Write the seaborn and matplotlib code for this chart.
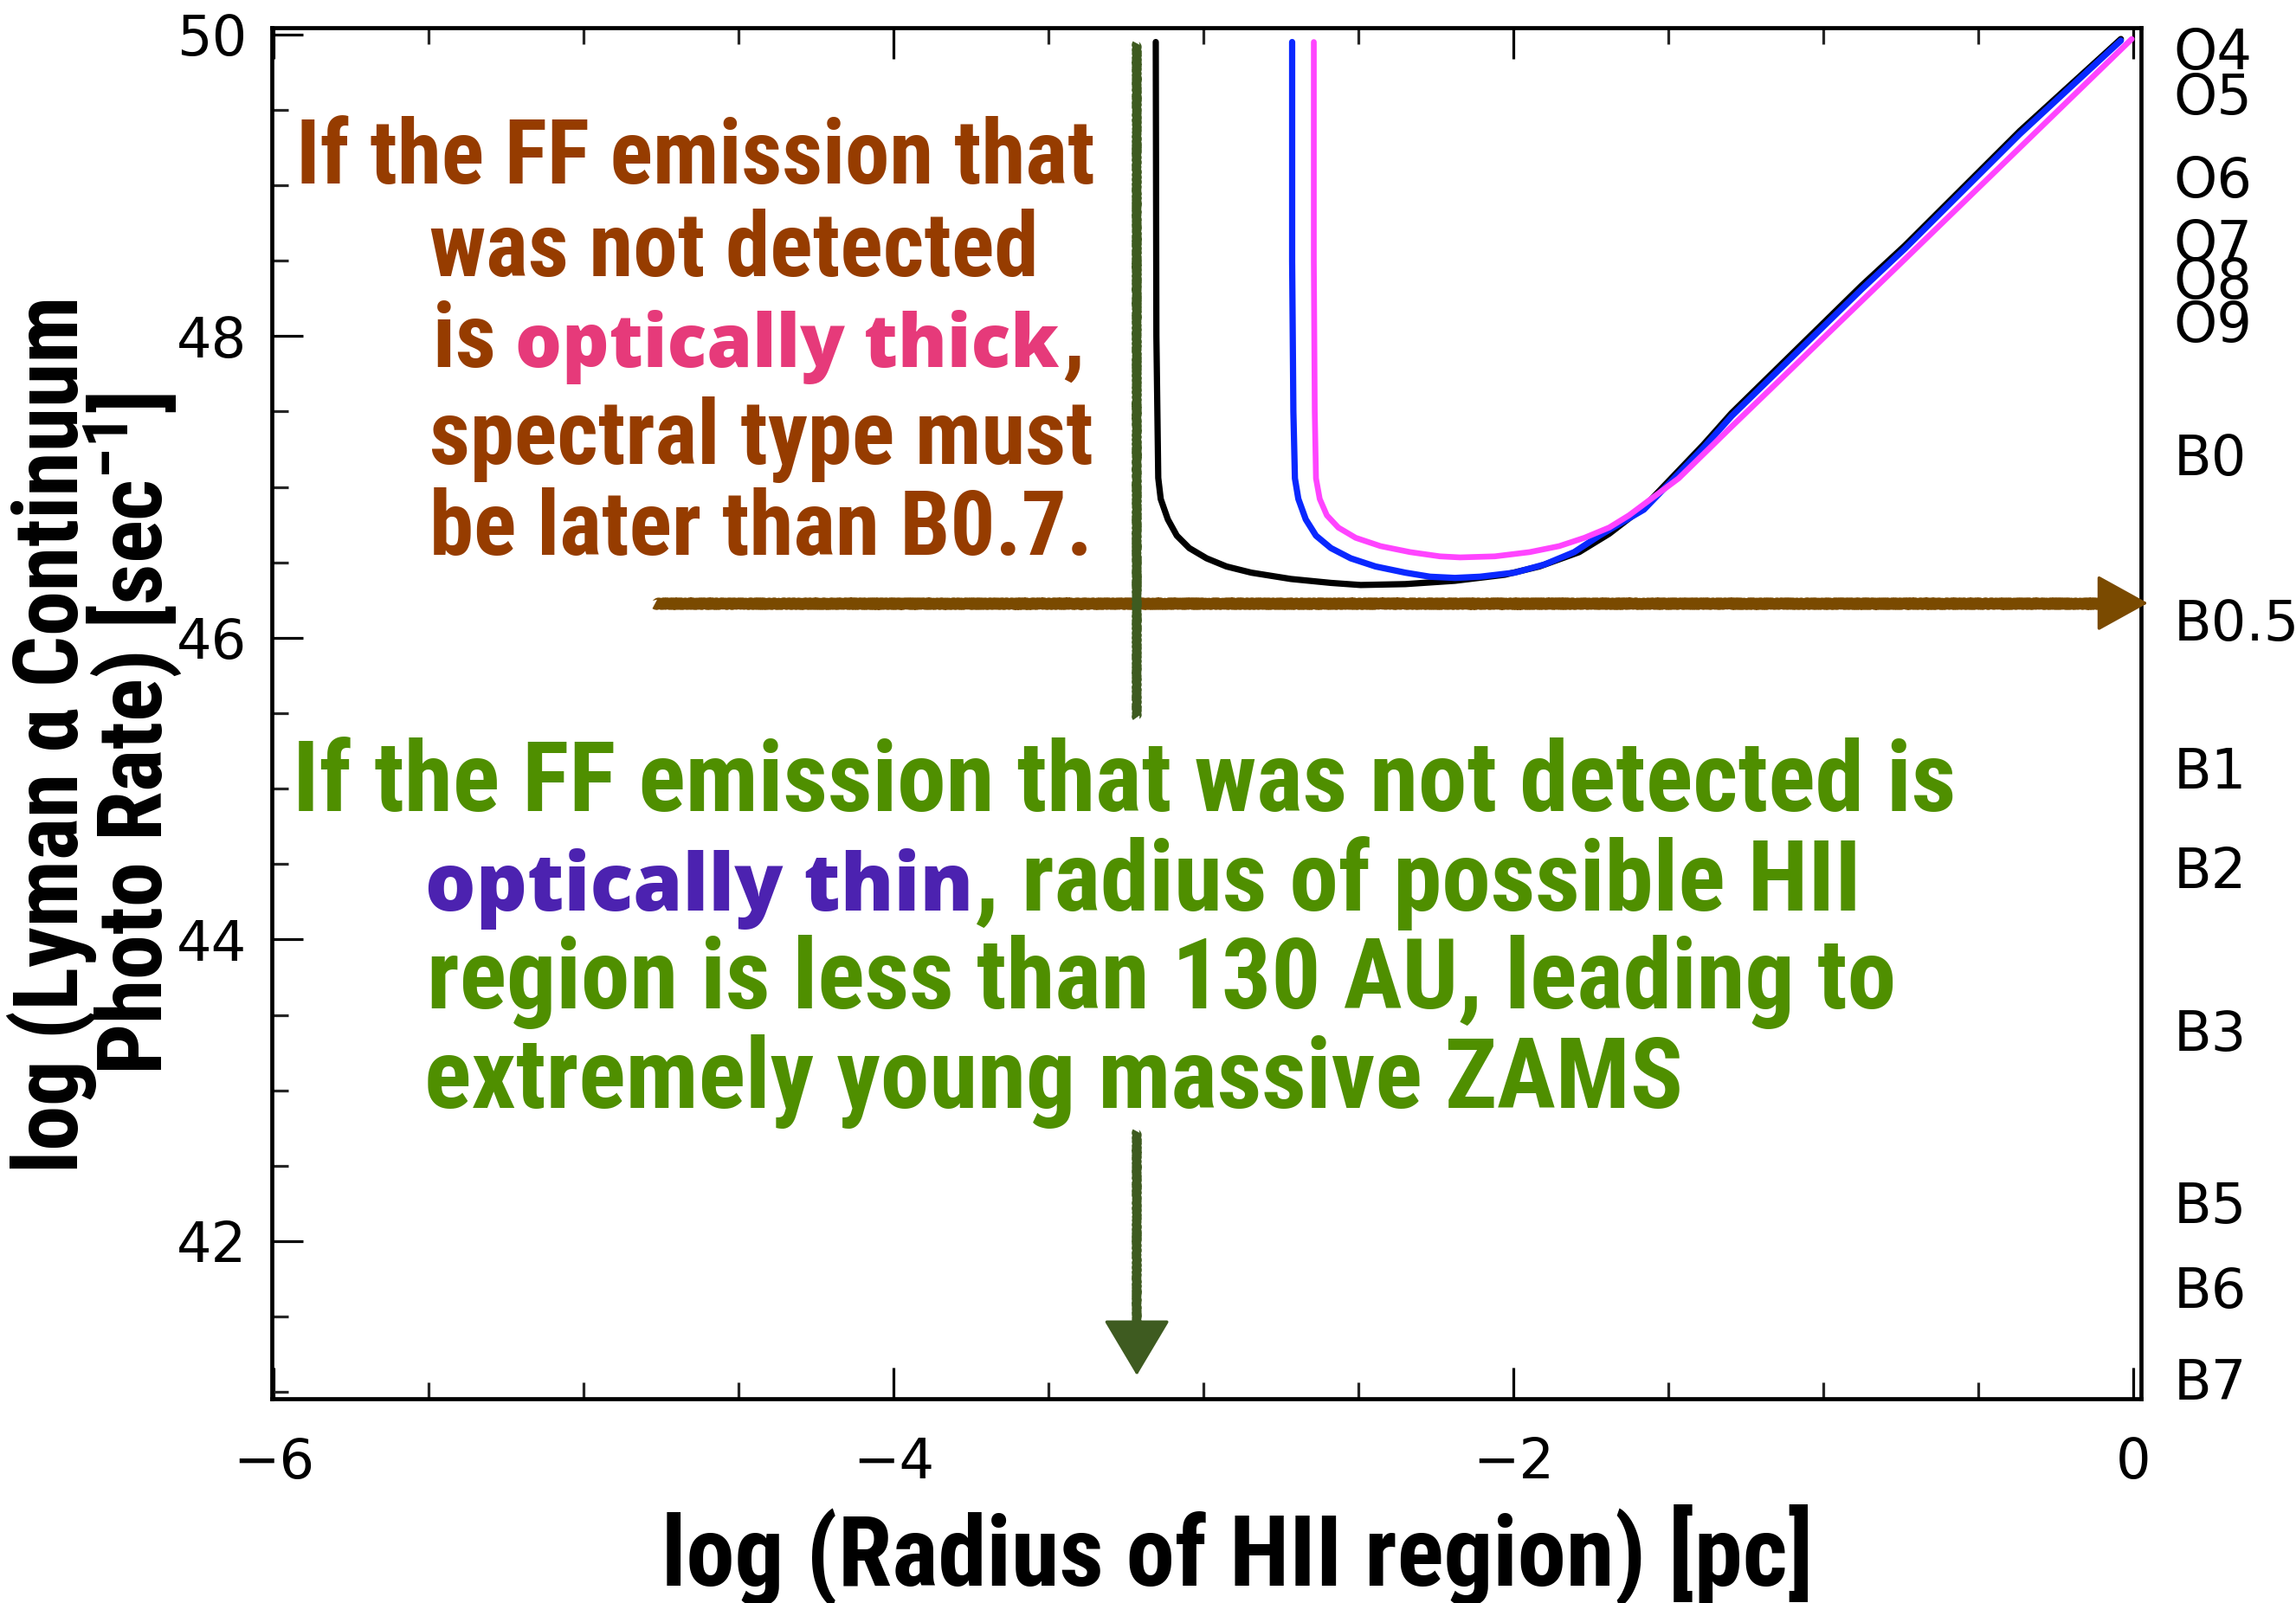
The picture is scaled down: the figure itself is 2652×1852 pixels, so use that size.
import numpy as np
import pandas as pd
import matplotlib
matplotlib.use("Agg")
import matplotlib.pyplot as plt
from matplotlib import font_manager as fm
from matplotlib.patches import FancyArrowPatch
from matplotlib.ticker import NullLocator
import seaborn as sns

# ---------------- data ----------------
black_x = [-3.154, -3.152, -3.146, -3.138, -3.115, -3.086, -3.046, -2.990, -2.926, -2.846,
           -2.718, -2.589, -2.493, -2.349, -2.189, -2.028, -1.916, -1.788, -1.691, -1.579,
           -1.387, -1.296, -0.877, -0.737, -0.366, -0.040]
black_y = [49.95, 48.00, 47.06, 46.92, 46.785, 46.677, 46.595, 46.527, 46.473, 46.432,
           46.39, 46.364, 46.35, 46.356, 46.378, 46.418, 46.473, 46.568, 46.69, 46.867,
           47.28, 47.49, 48.334, 48.60, 49.36, 49.97]

blue_x = [-2.714, -2.714, -2.710, -2.705, -2.694, -2.670, -2.637, -2.589, -2.525, -2.445,
          -2.349, -2.269, -2.189, -2.108, -1.996, -1.900, -1.804, -1.723, -1.579, -1.387,
          -1.296, -0.877, -0.737, -0.366, -0.040]
blue_y = [49.95, 48.50, 47.50, 47.057, 46.921, 46.785, 46.677, 46.595, 46.527, 46.473,
          46.432, 46.405, 46.397, 46.405, 46.432, 46.486, 46.568, 46.677, 46.85, 47.26,
          47.47, 48.31, 48.58, 49.34, 49.96]

magenta_x = [-2.644, -2.644, -2.641, -2.637, -2.625, -2.602, -2.565, -2.509, -2.429, -2.333,
             -2.237, -2.172, -2.060, -1.948, -1.852, -1.771, -1.691, -1.627, -1.467, -1.296,
             -0.737, -0.005]
magenta_y = [49.95, 48.50, 47.50, 47.057, 46.921, 46.812, 46.731, 46.663, 46.608, 46.568,
             46.54, 46.533, 46.54, 46.568, 46.608, 46.663, 46.731, 46.812, 47.057, 47.40,
             48.51, 49.97]

x_ticks = [-6, -4, -2, 0]
x_tick_labels = ["\u22126", "\u22124", "\u22122", "0"]
y_ticks = [42, 44, 46, 48, 50]
y_tick_labels = ["42", "44", "46", "48", "50"]

spectral_types = ["O4", "O5", "O6", "O7", "O8", "O9", "B0", "B0.5", "B1", "B2",
                  "B3", "B5", "B6", "B7"]
spectral_logq = [49.91, 49.61, 49.06, 48.64, 48.39, 48.10, 47.22, 46.12, 45.14, 44.48,
                 43.40, 42.26, 41.70, 41.09]

brown_arrow_x = [-4.77, 0.047]
brown_arrow_y = [46.23, 46.23]
green_arrow_x = [-3.215, -3.215]
green_top_y = [49.94, 45.47]
green_bottom_y = [42.73, 41.11]

xlabel_text = "log (Radius of HII region) [pc]"
ylabel_text = "log (Lyman \u03b1 Continuum\nPhoto Rate) [sec$^{\\mathregular{-1}}$]"
brown_lines = ["If the FF emission that", "was not detected", "is ", "optically thick", ",",
               "spectral type must", "be later than B0.7."]
green_lines = ["If the FF emission that was not detected is", "optically thin",
               ", radius of possible HII", "region is less than 130 AU, leading to",
               "extremely young massive ZAMS"]

# ---------------- style ----------------
sns.set_theme(style="ticks")
plt.rcParams["font.family"] = ["DejaVu Sans"]
plt.rcParams["axes.unicode_minus"] = True

names = {f.name for f in fm.fontManager.ttflist}


def pick(cands, default="DejaVu Sans"):
    for c in cands:
        if c in names:
            return c
    return default


COND = pick(["Liberation Sans Narrow", "Nimbus Sans Narrow", "Roboto Condensed",
             "Open Sans Condensed", "Arial Narrow"])
HUM = pick(["Open Sans", "Lato", "Noto Sans"])

W, H, DPI = 2652, 1852, 100
C_BROWN_TXT = "#963c00"
C_PINK = "#e63a7a"
C_GREEN_TXT = "#4f8f00"
C_PURPLE = "#4c22b0"
C_BLUE = "#0a28ff"
C_MAGENTA = "#ff44ff"
C_ARROW_BROWN = "#7a4a00"
C_ARROW_GREEN = "#3e5b20"

fig = plt.figure(figsize=(W / DPI, H / DPI), dpi=DPI)
fig.patch.set_facecolor("white")
ax = fig.add_axes([314 / W, 1 - 1616 / H, (2473 - 314) / W, (1616 - 32) / H])
ax.set_facecolor("white")

# curves
sns.lineplot(x=black_x, y=black_y, sort=False, estimator=None, color="black",
             linewidth=5.2, ax=ax, zorder=4)
sns.lineplot(x=blue_x, y=blue_y, sort=False, estimator=None, color=C_BLUE,
             linewidth=5.2, ax=ax, zorder=5)
sns.lineplot(x=magenta_x, y=magenta_y, sort=False, estimator=None, color=C_MAGENTA,
             linewidth=4.8, ax=ax, zorder=6)

ax.set_xlim(-6.006, 0.025)
ax.set_ylim(40.955, 50.045)

ax.set_xticks(x_ticks)
ax.set_xticklabels(x_tick_labels)
ax.set_xticks(np.arange(-6, 0.01, 0.5), minor=True)
ax.set_yticks(y_ticks)
ax.set_yticklabels(y_tick_labels)
ax.set_yticks(np.arange(41, 50.01, 0.5), minor=True)
ax.tick_params(which="major", direction="in", length=26, width=2.3, top=True, right=True,
               labelsize=46, colors="black")
ax.tick_params(which="minor", direction="in", length=14, width=2.3, top=True, right=True)
ax.tick_params(axis="x", which="major", pad=31)
ax.tick_params(axis="y", which="major", pad=21)
for sp in ax.spines.values():
    sp.set_visible(True)
    sp.set_linewidth(3.4)
    sp.set_color("black")
ax.set_xlabel("")
ax.set_ylabel("")

# spectral type labels on the right
ax2 = ax.twinx()
ax2.set_ylim(ax.get_ylim())
ax2.set_yticks(spectral_logq)
ax2.set_yticklabels(spectral_types)
ax2.yaxis.set_minor_locator(NullLocator())
ax2.tick_params(axis="y", length=0, pad=27, labelsize=46, colors="black")
for sp in ax2.spines.values():
    sp.set_visible(False)
ax2.grid(False)

# arrows (chalk-like shafts + heads)
SKETCH = (0.9, 5.0, 2.0)
bx_head_base = brown_arrow_x[1] - 0.15
shaft_b, = ax.plot([brown_arrow_x[0], bx_head_base], brown_arrow_y, color=C_ARROW_BROWN,
                   lw=9.2, solid_capstyle="butt", zorder=3, clip_on=False)
shaft_b.set_sketch_params(*SKETCH)
head_b = FancyArrowPatch((bx_head_base - 0.05, brown_arrow_y[0]), (brown_arrow_x[1], brown_arrow_y[1]),
                         arrowstyle="-|>,head_length=38,head_width=21", mutation_scale=1,
                         lw=2.5, color=C_ARROW_BROWN, shrinkA=0, shrinkB=0, zorder=3,
                         clip_on=False, transform=ax.transData)
ax.add_patch(head_b)

shaft_g1, = ax.plot(green_arrow_x, green_top_y, color=C_ARROW_GREEN, lw=7.2,
                    solid_capstyle="butt", zorder=3.5)
shaft_g1.set_sketch_params(*SKETCH)
gy_head_base = green_bottom_y[1] + 0.26
shaft_g2, = ax.plot(green_arrow_x, [green_bottom_y[0], gy_head_base], color=C_ARROW_GREEN,
                    lw=7.2, solid_capstyle="butt", zorder=3.5)
shaft_g2.set_sketch_params(*SKETCH)
head_g = FancyArrowPatch((green_arrow_x[0], gy_head_base + 0.05), (green_arrow_x[1], green_bottom_y[1]),
                         arrowstyle="-|>,head_length=42,head_width=25", mutation_scale=1,
                         lw=2.5, color=C_ARROW_GREEN, shrinkA=0, shrinkB=0, zorder=3.5,
                         transform=ax.transData)
ax.add_patch(head_g)

# ---------------- text ----------------
renderer = fig.canvas.get_renderer()


def fxp(px):
    return px / W


def fyp(py):
    return 1 - py / H


def put(s, x, base, color, family, weight="bold", fs=50, stretch="condensed", **kw):
    return fig.text(fxp(x), fyp(base), s, color=color, fontsize=fs, ha="left", va="baseline",
                    fontfamily=[family, "DejaVu Sans"], fontweight=weight, fontstretch=stretch,
                    zorder=10, **kw)


def width(t):
    return t.get_window_extent(renderer).width


def fit_size(t, target):
    return t.get_fontsize() * target / width(t)


# brown block
b1 = put(brown_lines[0], 342, 212, C_BROWN_TXT, COND)
b2 = put(brown_lines[1], 496, 319, C_BROWN_TXT, COND)
b4 = put(brown_lines[5], 496, 536, C_BROWN_TXT, COND)
b5 = put(brown_lines[6], 496, 640.6, C_BROWN_TXT, COND)
bs = np.mean([fit_size(b1, 930), fit_size(b2, 709), fit_size(b4, 772), fit_size(b5, 751)])
for t in (b1, b2, b4, b5):
    t.set_fontsize(bs)
b3 = put(brown_lines[2], 500, 424, C_BROWN_TXT, COND, fs=bs)
pk = put(brown_lines[3], 594.6, 424, C_PINK, HUM, weight="heavy", stretch="normal")
pk.set_fontsize(fit_size(pk, 628))
pk_end = pk.get_window_extent(renderer).x1
put(brown_lines[4], pk_end + 4, 424, C_BROWN_TXT, COND, fs=bs)

# green block
g1 = put(green_lines[0], 338, 937, C_GREEN_TXT, COND)
g3 = put(green_lines[3], 493, 1165, C_GREEN_TXT, COND)
g4 = put(green_lines[4], 490, 1280, C_GREEN_TXT, COND)
gs = np.mean([fit_size(g1, 1925), fit_size(g3, 1691), fit_size(g4, 1461)])
for t in (g1, g3, g4):
    t.set_fontsize(gs)
pu = put(green_lines[1], 491, 1051.7, C_PURPLE, HUM, weight="heavy", stretch="normal")
pu.set_fontsize(fit_size(pu, 633))
pu_end = pu.get_window_extent(renderer).x1
put(green_lines[2], pu_end + 2, 1051.7, C_GREEN_TXT, COND, fs=gs)

# x label
xl = fig.text(fxp(1429), fyp(1832), xlabel_text, ha="center", va="baseline", color="black",
              fontfamily=[COND, "DejaVu Sans"], fontweight="bold", fontstretch="condensed", fontsize=60)
xl.set_fontsize(fit_size(xl, 1332))

# y label: one two-line text, sized and spaced to the reference
first_w = fig.text(0, 0, ylabel_text.split("\n")[0], fontfamily=[COND, "DejaVu Sans"],
                   fontweight="bold", fontstretch="condensed", fontsize=60)
ys = 60 * 1015 / first_w.get_window_extent(renderer).width
first_w.remove()
yl = fig.text(0.05, 0.5, ylabel_text, rotation=0, ha="center", va="center",
              multialignment="center", color="black", fontfamily=[COND, "DejaVu Sans"],
              fontweight="bold", fontstretch="condensed", fontsize=ys, linespacing=1.2)
_, info, _ = yl._get_layout(renderer)
gap = abs(info[1][3] - info[0][3])
yl.set_linespacing(1.2 * 90 / gap)
yl.set_rotation(90)
yl.set_rotation_mode("anchor")
bb = yl.get_window_extent(renderer)
target_x0 = 8.0
target_yc = H - 848.0
dx = target_x0 - bb.x0
dy = target_yc - (bb.y0 + bb.y1) / 2
px, py = yl.get_position()
yl.set_position((px + dx / W, py + dy / H))

fig.savefig("out.png", dpi=DPI, facecolor="white")
